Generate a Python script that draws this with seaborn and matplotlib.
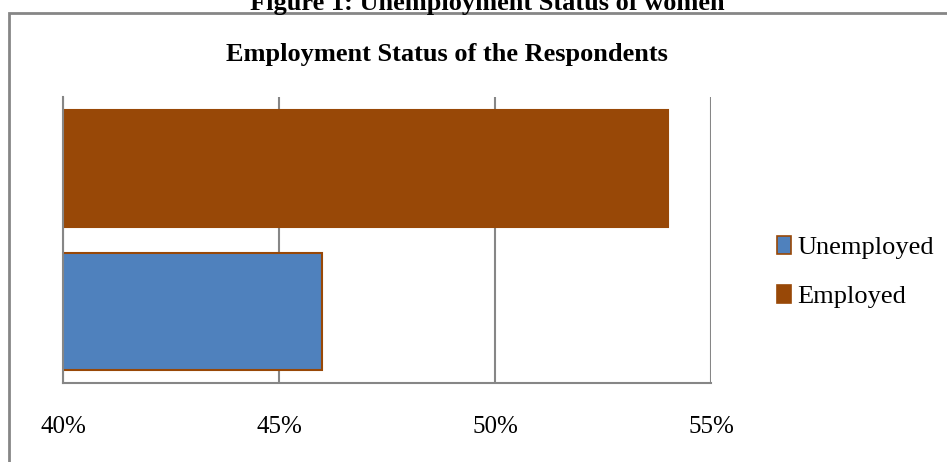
import matplotlib
matplotlib.use("Agg")
import matplotlib.pyplot as plt
import seaborn as sns
import pandas as pd
from matplotlib.patches import Patch, Rectangle
from matplotlib.ticker import FuncFormatter

categories = ["Employed", "Unemployed"]
values = [54, 46]
legend_order = ["Unemployed", "Employed"]
colors = {"Employed": "#984807", "Unemployed": "#4F81BD"}
xticks = [40, 45, 50, 55]

sns.set_theme(style="white")
plt.rcParams["font.family"] = ["Liberation Serif", "DejaVu Serif"]
plt.rcParams["text.color"] = "black"

df = pd.DataFrame({"status": categories, "pct": values})

fig = plt.figure(figsize=(9.47, 4.62), dpi=100)
W, H = 947, 462
ax = fig.add_axes([63 / W, (H - 383) / H, (711 - 63) / W, (383 - 97) / H])

sns.barplot(data=df, y="status", x="pct", hue="status", order=categories,
            palette=colors, width=0.82, orient="h", ax=ax, legend=False,
            edgecolor="#984807", linewidth=1.5, saturation=1)

ax.set_xlim(40, 55)
ax.set_xticks(xticks)
ax.xaxis.set_major_formatter(FuncFormatter(lambda v, p: f"{v:.0f}%"))
ax.tick_params(axis="x", length=0, pad=24, labelsize=18, labelcolor="black")
ax.set_yticks([])
ax.set_xlabel("")
ax.set_ylabel("")
ax.grid(axis="x", color="#868686", linewidth=1.5)
ax.set_axisbelow(True)
for s in ["top", "right"]:
    ax.spines[s].set_visible(False)
for s in ["left", "bottom"]:
    ax.spines[s].set_color("#868686")
    ax.spines[s].set_linewidth(1.5)

handles = [Patch(facecolor=colors[c], edgecolor="#984807", linewidth=1.2, label=c)
           for c in legend_order]
fig.legend(handles=handles, loc="center left", bbox_to_anchor=(766 / W, (H - 272) / H),
           frameon=False, fontsize=19, handlelength=0.55, handleheight=0.7,
           handletextpad=0.25, labelspacing=0.95, borderaxespad=0,
           labelcolor="black")

fig.patches.append(Rectangle((9 / W, -0.1), 1.2, (H - 13) / H + 0.1,
                             transform=fig.transFigure, fill=False,
                             edgecolor="#868686", linewidth=2, clip_on=False))

fig.text(447 / W, (H - 61) / H, "Employment Status of the Respondents",
         ha="center", va="baseline", fontsize=19, fontweight="bold", color="black")
fig.text(487 / W, (H - 10) / H, "Figure 1: Unemployment Status of women",
         ha="center", va="baseline", fontsize=19, fontweight="bold", color="black")

fig.savefig("out.png", dpi=100, facecolor="white")
